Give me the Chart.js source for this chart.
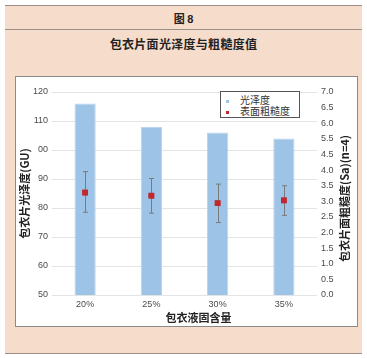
<!DOCTYPE html>
<html>
<head>
<meta charset="utf-8">
<script src="https://cdn.jsdelivr.net/npm/chart.js@4/dist/chart.umd.min.js"></script>
<style>
html,body{margin:0;padding:0;background:#fff;width:367px;height:358px;overflow:hidden;}
#frame{position:absolute;left:5px;top:5px;width:357px;height:349px;background:#f6dccb;border-top:1.5px solid #9b8f89;border-bottom:1.5px solid #9b8f89;box-sizing:border-box;}
#hline{position:absolute;left:5px;top:29px;width:357px;height:0;border-top:1.5px solid #9b8f89;}
#fig{position:absolute;left:0;top:10px;width:367px;text-align:center;font:bold 11px "Noto Sans CJK SC","Liberation Sans",sans-serif;color:#222;}
#ttl{position:absolute;left:0;top:35px;width:367px;text-align:center;font:bold 12px "Noto Sans CJK SC",sans-serif;color:#222;letter-spacing:0.3px;}
#panel{position:absolute;left:15px;top:76px;width:343px;height:251px;background:#fff;border:1px solid #8a8a8a;box-sizing:border-box;}
#c{position:absolute;left:16px;top:78px;}
#legend{position:absolute;left:220px;top:91px;width:80px;height:27px;border:1px solid #555;box-sizing:border-box;background:#fff;font:10px "Noto Sans CJK SC",sans-serif;color:#333;}
.li{position:absolute;left:19px;height:12px;line-height:12px;}
.mk{position:absolute;left:5px;width:3px;height:3px;}
</style>
</head>
<body>
<div id="frame"></div>
<div id="hline"></div>
<div id="fig">图 <span style="font-family:'Liberation Sans',sans-serif">8</span></div>
<div id="ttl">包衣片面光泽度与粗糙度值</div>
<div id="panel"></div>
<canvas id="c" width="341" height="247"></canvas>
<div id="legend">
  <div class="mk" style="top:8px;background:#9dc3e6"></div><div class="li" style="top:2px">光泽度</div>
  <div class="mk" style="top:19px;background:#c0282d"></div><div class="li" style="top:13px">表面粗糙度</div>
</div>
<script>
const categories = ['20%', '25%', '30%', '35%'];
const glossValues = [116, 108, 106, 104];
const roughValues = [3.28, 3.18, 2.94, 3.03];
const roughHigh = [3.95, 3.73, 3.55, 3.50];
const roughLow = [2.65, 2.62, 2.32, 2.55];
const leftTickLabels = ['50', '60', '70', '80', '90', '00', '110', '120'];
const rightTickLabels = ['0.0','0.5','1.0','1.5','2.0','2.5','3.0','3.5','4.0','4.5','5.5','6.0','6.5','7.0'];
const seriesNames = ['光泽度', '表面粗糙度'];
const leftTitle = '包衣片光泽度(GU)';
const rightTitle = '包衣片面粗糙度(Sa)(n=4)';
const xTitle = '包衣液固含量';

const tickFont = {family: '"Liberation Sans",Arial,sans-serif', size: 9};

const extras = {
  id: 'extras',
  afterDatasetsDraw(chart) {
    const ctx = chart.ctx;
    const x = chart.scales.x, y1 = chart.scales.y1;
    ctx.save();
    ctx.strokeStyle = '#7a7a7a';
    ctx.lineWidth = 1;
    for (let i = 0; i < categories.length; i++) {
      const px = Math.round(x.getPixelForValue(i)) + 0.5;
      const top = y1.getPixelForValue(roughHigh[i]);
      const bot = y1.getPixelForValue(roughLow[i]);
      ctx.beginPath();
      ctx.moveTo(px, top); ctx.lineTo(px, bot);
      ctx.moveTo(px - 2.5, top); ctx.lineTo(px + 2.5, top);
      ctx.moveTo(px - 2.5, bot); ctx.lineTo(px + 2.5, bot);
      ctx.stroke();
    }
    ctx.restore();
    const meta = chart.getDatasetMeta(1);
    meta.data.forEach(p => p.draw(ctx));
  },
  afterDraw(chart) {
    const ctx = chart.ctx;
    const a = chart.chartArea;
    const cy = (a.top + a.bottom) / 2;
    ctx.save();
    ctx.fillStyle = '#222';
    ctx.font = 'bold 11px "Noto Sans CJK SC",sans-serif';
    ctx.textAlign = 'center';
    ctx.textBaseline = 'middle';
    ctx.save();
    ctx.translate(9, cy);
    ctx.rotate(-Math.PI / 2);
    ctx.fillText(leftTitle, 0, 0);
    ctx.restore();
    ctx.save();
    ctx.translate(329, cy + 5);
    ctx.rotate(-Math.PI / 2);
    ctx.fillText(rightTitle, 0, 0);
    ctx.restore();
    ctx.fillText(xTitle, (a.left + a.right) / 2 + 14, 240);
    ctx.restore();
  }
};

new Chart(document.getElementById('c'), {
  data: {
    labels: categories,
    datasets: [
      {
        type: 'bar',
        label: seriesNames[0],
        data: glossValues,
        yAxisID: 'y',
        backgroundColor: '#9dc3e6',
        borderColor: '#b7d4ee',
        borderWidth: 1,
        barPercentage: 0.32,
        categoryPercentage: 1,
        order: 2
      },
      {
        type: 'line',
        label: seriesNames[1],
        data: roughValues,
        yAxisID: 'y1',
        showLine: false,
        pointStyle: 'rect',
        pointRadius: 4,
        pointBackgroundColor: '#c0282d',
        pointBorderColor: '#c0282d',
        pointBorderWidth: 0,
        order: 1
      }
    ]
  },
  options: {
    responsive: false,
    animation: false,
    events: [],
    layout: {padding: {top: 14, left: 0, right: 0, bottom: 0}},
    plugins: {legend: {display: false}, tooltip: {enabled: false}},
    scales: {
      x: {
        grid: {display: false, drawTicks: false},
        border: {display: false},
        ticks: {color: '#4a4a4a', font: tickFont, padding: 4},
        afterFit(s) { s.height = 30; }
      },
      y: {
        position: 'left',
        min: 50, max: 120,
        ticks: {stepSize: 10, color: '#4a4a4a', font: tickFont, padding: 4,
          callback: (v, i) => leftTickLabels[i]},
        grid: {color: '#e4e4e4', drawTicks: false},
        border: {display: false},
        afterFit(s) { s.width = 36; }
      },
      y1: {
        position: 'right',
        min: 0, max: 6.5,
        ticks: {stepSize: 0.5, color: '#4a4a4a', font: tickFont, padding: 4,
          callback: (v, i) => rightTickLabels[i]},
        grid: {display: false, drawTicks: false},
        border: {display: false},
        afterFit(s) { s.width = 40; }
      }
    }
  },
  plugins: [extras]
});
</script>
</body>
</html>
